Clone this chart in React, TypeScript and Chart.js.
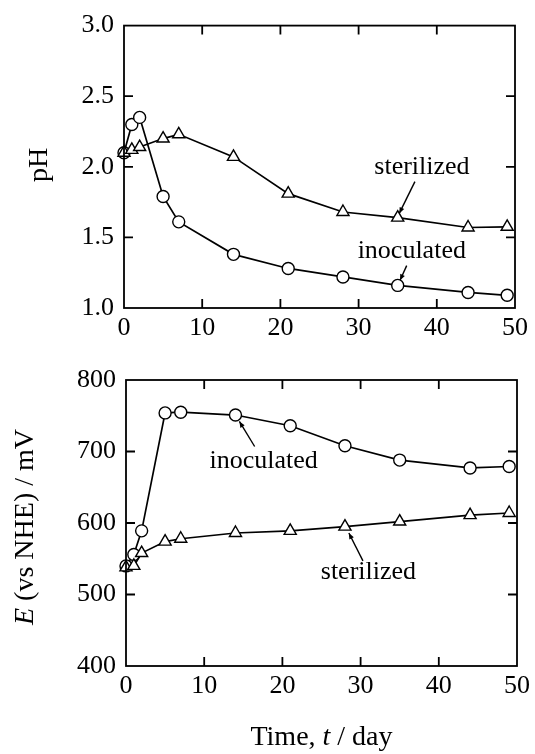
import React, { useEffect, useRef } from 'react';
import { Chart, registerables } from 'chart.js';

Chart.register(...registerables);

// ---- data ----
const days = [0, 1, 2, 5, 7, 14, 21, 28, 35, 44, 49];
const phInoculated = [2.1, 2.3, 2.35, 1.79, 1.61, 1.38, 1.28, 1.22, 1.16, 1.11, 1.09];
const phSterilized = [2.1, 2.12, 2.14, 2.2, 2.23, 2.07, 1.81, 1.68, 1.64, 1.57, 1.575];
const eInoculated = [540, 556, 589, 754, 755, 751, 736, 708, 688, 677, 679];
const eSterilized = [538, 540, 558, 574, 578, 586, 589, 595, 602, 611, 614];
const xTicks = [0, 10, 20, 30, 40, 50];
const phTicks = [1.0, 1.5, 2.0, 2.5, 3.0];
const eTicks = [400, 500, 600, 700, 800];

// annotation labels: text at (tx, ty), leader from (fx, fy) to (ax, ay), in data units
const phNotes = [
  { text: 'sterilized', tx: 38.1, ty: 2.0, fx: 37.2, fy: 1.895, ax: 35.2, ay: 1.67 },
  { text: 'inoculated', tx: 36.8, ty: 1.405, fx: 36.15, fy: 1.3, ax: 35.3, ay: 1.196 },
];
const eNotes = [
  { text: 'inoculated', tx: 17.6, ty: 687, fx: 16.45, fy: 707, ax: 14.5, ay: 742 },
  { text: 'sterilized', tx: 31.0, ty: 531, fx: 30.3, fy: 547, ax: 28.5, ay: 586 },
];

const SERIF = '"Liberation Serif", "DejaVu Serif", serif';

type Part = { text: string; italic?: boolean };

function drawParts(ctx: CanvasRenderingContext2D, parts: Part[], cx: number, cy: number, size: number, rotate: boolean) {
  ctx.save();
  ctx.translate(cx, cy);
  if (rotate) ctx.rotate(-Math.PI / 2);
  const fonts = parts.map((p) => `${p.italic ? 'italic ' : ''}${size}px ${SERIF}`);
  let total = 0;
  const widths = parts.map((p, i) => {
    ctx.font = fonts[i];
    const w = ctx.measureText(p.text).width;
    total += w;
    return w;
  });
  let x = -total / 2;
  ctx.fillStyle = '#000';
  ctx.textBaseline = 'middle';
  ctx.textAlign = 'left';
  parts.forEach((p, i) => {
    ctx.font = fonts[i];
    ctx.fillText(p.text, x, 0);
    x += widths[i];
  });
  ctx.restore();
}

function makeDecoPlugin(cfg: any) {
  return {
    id: 'deco',
    afterDraw(chart: any) {
      const { ctx, chartArea: a, scales } = chart;
      const xs = scales.x;
      const ys = scales.y;
      ctx.save();
      ctx.strokeStyle = '#000';
      ctx.lineWidth = 1.8;
      ctx.strokeRect(a.left, a.top, a.right - a.left, a.bottom - a.top);
      const L = 9;
      ctx.beginPath();
      xTicks.slice(1, -1).forEach((v) => {
        const px = xs.getPixelForValue(v);
        ctx.moveTo(px, a.bottom);
        ctx.lineTo(px, a.bottom - L);
        ctx.moveTo(px, a.top);
        ctx.lineTo(px, a.top + L);
      });
      cfg.yTicks.slice(1, -1).forEach((v: number) => {
        const py = ys.getPixelForValue(v);
        ctx.moveTo(a.left, py);
        ctx.lineTo(a.left + L, py);
        ctx.moveTo(a.right, py);
        ctx.lineTo(a.right - L, py);
      });
      ctx.stroke();

      // annotations
      cfg.notes.forEach((n: any) => {
        const tx = xs.getPixelForValue(n.tx);
        const ty = ys.getPixelForValue(n.ty);
        ctx.font = `26px ${SERIF}`;
        ctx.fillStyle = '#000';
        ctx.textAlign = 'center';
        ctx.textBaseline = 'middle';
        ctx.fillText(n.text, tx, ty);
        const fx = xs.getPixelForValue(n.fx);
        const fy = ys.getPixelForValue(n.fy);
        const axp = xs.getPixelForValue(n.ax);
        const ayp = ys.getPixelForValue(n.ay);
        ctx.lineWidth = 1.4;
        ctx.beginPath();
        ctx.moveTo(fx, fy);
        ctx.lineTo(axp, ayp);
        ctx.stroke();
        const ang = Math.atan2(ayp - fy, axp - fx);
        const hl = 6;
        const hw = 2.5;
        ctx.beginPath();
        ctx.moveTo(axp, ayp);
        ctx.lineTo(axp - hl * Math.cos(ang) + hw * Math.sin(ang), ayp - hl * Math.sin(ang) - hw * Math.cos(ang));
        ctx.lineTo(axp - hl * Math.cos(ang) - hw * Math.sin(ang), ayp - hl * Math.sin(ang) + hw * Math.cos(ang));
        ctx.closePath();
        ctx.fill();
      });

      // axis titles
      drawParts(ctx, cfg.yTitle, cfg.yTitleX, (a.top + a.bottom) / 2 + cfg.yTitleDy, 28, true);
      if (cfg.xTitle) {
        drawParts(ctx, cfg.xTitle, (a.left + a.right) / 2, cfg.xTitleY, 28, false);
      }
      ctx.restore();
    },
  };
}

function buildChart(canvas: HTMLCanvasElement, cfg: any) {
  const tickFont = { family: SERIF, size: 26 };
  return new Chart(canvas, {
    type: 'line',
    data: {
      datasets: [
        {
          label: 'inoculated',
          order: 1,
          data: days.map((d, i) => ({ x: d, y: cfg.inoc[i] })),
          borderColor: '#000',
          borderWidth: 1.7,
          pointStyle: 'circle',
          pointRadius: 6,
          pointBorderWidth: 1.4,
          pointBackgroundColor: '#fff',
          pointBorderColor: '#000',
          tension: 0,
          clip: false,
        } as any,
        {
          label: 'sterilized',
          order: 0,
          data: days.map((d, i) => ({ x: d, y: cfg.ster[i] })),
          borderColor: '#000',
          borderWidth: 1.7,
          pointStyle: 'triangle',
          pointRadius: 7,
          pointBorderWidth: 1.4,
          pointBackgroundColor: '#fff',
          pointBorderColor: '#000',
          tension: 0,
          clip: false,
        } as any,
      ],
    },
    options: {
      animation: false,
      responsive: false,
      maintainAspectRatio: false,
      layout: { padding: { top: cfg.padTop, right: cfg.padRight, left: 0, bottom: 0 } },
      plugins: { legend: { display: false }, tooltip: { enabled: false } },
      scales: {
        x: {
          type: 'linear',
          min: 0,
          max: 50,
          grid: { display: false, drawTicks: false },
          border: { display: false },
          afterBuildTicks: (s: any) => {
            s.ticks = xTicks.map((v) => ({ value: v }));
          },
          ticks: { font: tickFont, color: '#000', padding: 5, maxRotation: 0, autoSkip: false },
          afterFit: (s: any) => {
            s.height = cfg.xHeight;
          },
        },
        y: {
          type: 'linear',
          min: cfg.yMin,
          max: cfg.yMax,
          grid: { display: false, drawTicks: false },
          border: { display: false },
          afterBuildTicks: (s: any) => {
            s.ticks = cfg.yTicks.map((v: number) => ({ value: v }));
          },
          ticks: {
            font: tickFont,
            color: '#000',
            padding: 10,
            autoSkip: false,
            callback: (v: any) => cfg.fmt(Number(v)),
          },
          afterFit: (s: any) => {
            s.width = cfg.yWidth;
          },
        },
      },
    },
    plugins: [makeDecoPlugin(cfg)],
  } as any);
}

export default function App() {
  const ref1 = useRef<HTMLCanvasElement>(null);
  const ref2 = useRef<HTMLCanvasElement>(null);

  useEffect(() => {
    const c1 = buildChart(ref1.current!, {
      inoc: phInoculated,
      ster: phSterilized,
      yMin: 1,
      yMax: 3,
      yTicks: phTicks,
      fmt: (v: number) => v.toFixed(1),
      padTop: 22,
      padRight: 20,
      xHeight: 37,
      yWidth: 124,
      notes: phNotes,
      yTitle: [{ text: 'pH' }],
      yTitleX: 40,
      yTitleDy: -2,
    });
    const c2 = buildChart(ref2.current!, {
      inoc: eInoculated,
      ster: eSterilized,
      yMin: 400,
      yMax: 800,
      yTicks: eTicks,
      fmt: (v: number) => String(v),
      padTop: 35,
      padRight: 17,
      xHeight: 88,
      yWidth: 126,
      notes: eNotes,
      yTitle: [{ text: 'E', italic: true }, { text: ' (vs NHE) / mV' }],
      yTitleX: 26,
      yTitleDy: 4,
      xTitle: [{ text: 'Time, ' }, { text: 't', italic: true }, { text: ' / day' }],
      xTitleY: 393,
    });
    return () => {
      c1.destroy();
      c2.destroy();
    };
  }, []);

  return (
    <div style={{ position: 'absolute', left: 0, top: 0, width: 535, height: 754, background: '#fff' }}>
      <canvas ref={ref1} width={535} height={345} style={{ position: 'absolute', left: 0, top: 0, width: 535, height: 345 }} />
      <canvas ref={ref2} width={535} height={409} style={{ position: 'absolute', left: 0, top: 345, width: 535, height: 409 }} />
    </div>
  );
}
